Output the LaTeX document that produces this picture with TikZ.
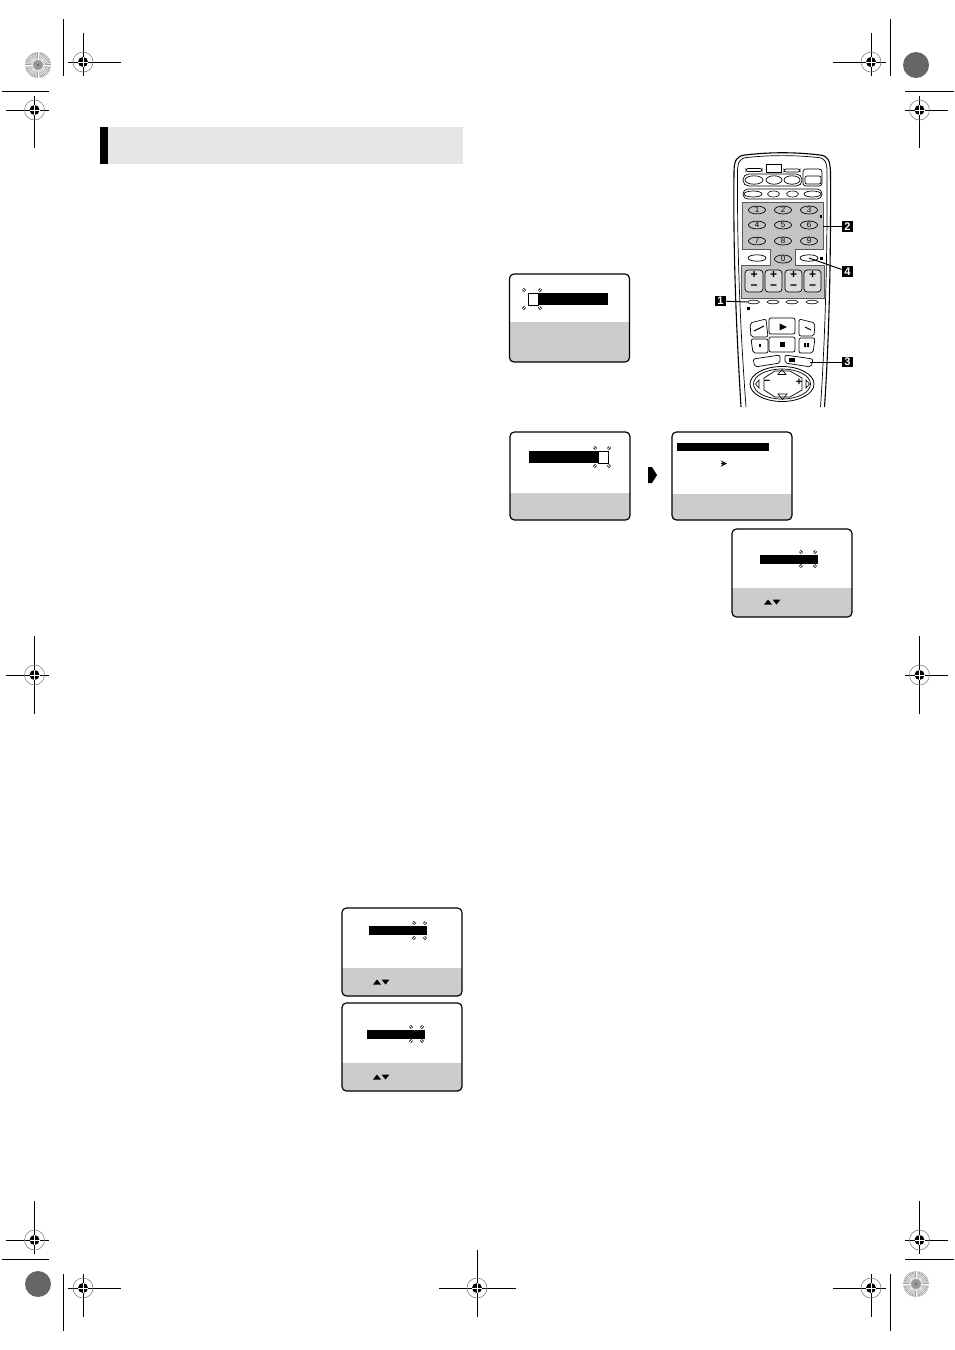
\documentclass[tikz,border=0pt]{standalone}
\usepackage{fontspec}
\setmainfont{Liberation Sans}
\usetikzlibrary{shapes.geometric}

\definecolor{bandgray}{HTML}{E6E6E6}
\definecolor{scrgray}{HTML}{CCCCCC}
\definecolor{padgray}{HTML}{C4C4C4}
\definecolor{dotgray}{HTML}{666666}

\tikzset{
 oval/.style={draw, ellipse, inner sep=0, line width=.35pt, fill=white, minimum width=#1*.5pt},
 oval/.default=17,
 numkey/.style={oval=17, fill=padgray, minimum height=2.8pt, text=black, font=\fontsize{4}{4}\selectfont},
 bigkey/.style={oval=18, minimum height=3.2pt},
 slimkey/.style={oval=12, minimum height=1.8pt, line width=.3pt},
 tag/.style={fill=black, text=white, inner sep=0, minimum width=5.5pt, minimum height=5.3pt, font=\fontsize{5.5}{5.5}\selectfont\bfseries},
 lead/.style={line width=.5pt},
 keyline/.style={line width=.35pt, rounded corners=1pt},
 scrbox/.style={line width=.6pt, rounded corners=2.2pt},
 spark/.style={line width=.4pt}
}

% crop target, at (x,y)
\newcommand\regmark[2]{
 \draw[gray, line width=.3pt] (#1,#2) circle (10);
 \fill[black] (#1,#2) circle (5);
 \draw[white, line width=.25pt] (#1-5,#2)--(#1+5,#2) (#1,#2-5)--(#1,#2+5);
}
\newcommand\spiral[2]{
 \fill[gray!80] (#1,#2) circle (13);
 \foreach \a in {0,7.5,...,352.5} \draw[white, line width=.22pt] ([shift={(\a:5)}]#1,#2) -- ([shift={(\a:13)}]#1,#2);
 \fill[black!75] (#1,#2) circle (.8);
}
% screen: left, top, top of grey part
\newcommand\screen[3]{
 \fill[white] (#1,#2) rectangle ++(120,88);
 \fill[scrgray] (#1,#3) -- ++(120,0) [rounded corners=2.2pt] -- (#1+120,#2+88) -- (#1,#2+88) [sharp corners] -- cycle;
 \draw[scrbox] (#1,#2) rectangle ++(120,88);
}
% four blinking marks: left, right, top, bottom
\newcommand\sparks[4]{
 \foreach \sx/\sy/\dx/\dy in {#1/#3/-1/-1, #2/#3/1/-1, #1/#4/-1/1, #2/#4/1/1} {
  \draw[spark] (\sx-\dx*1.2-\dy*.7,\sy-\dy*1.2+\dx*.7) --++(\dx*2.4,\dy*2.4);
  \draw[spark] (\sx-\dx*1+\dy*.7,\sy-\dy*1-\dx*.7) --++(\dx*2,\dy*2);
 }
}
\newcommand\updown[2]{
 \fill (#1-4,#2+2.5) -- (#1,#2-2.5) -- (#1+4,#2+2.5) -- cycle;
 \fill (#1+4.5,#2-2.5) -- (#1+12.5,#2-2.5) -- (#1+8.5,#2+2.5) -- cycle;
}

\begin{document}
\begin{tikzpicture}[x=.5pt, y=-.5pt]
\useasboundingbox (0,0) rectangle (954,1350);

% heading band
\fill[bandgray] (108,127) rectangle (463,164);
\fill[black] (100,127) rectangle (108,164);

% crop lines
\foreach \x/\ya/\yb in {63/19/76, 890/19/76, 63/1274/1331, 890/1274/1331}
 \draw[line width=.5pt] (\x,\ya)--(\x,\yb);
\foreach \xa/\xb/\y in {2/49/91, 905/954/91, 2/49/1259, 905/954/1259}
 \draw[line width=.5pt] (\xa,\y)--(\xb,\y);
\foreach \x/\y/\xa/\xb/\ya/\yb in {83/62/68/121/33/76, 871/62/833/886/33/76, 34.5/110/6/49/96/148, 919.5/110/905/948/96/148,
 34.5/675/6/49/636/714, 919.5/675/905/948/636/714, 34.5/1240/6/49/1201/1254, 919.5/1240/905/948/1201/1254,
 83/1288/68/121/1274/1317, 871/1288/833/886/1274/1317, 477/1288/439/516/1250/1317} {
 \draw[line width=.5pt] (\xa,\y)--(\xb,\y) (\x,\ya)--(\x,\yb);
 \regmark{\x}{\y}
}
\spiral{38}{65}
\spiral{916}{1284}
\fill[dotgray] (916,65) circle (13);
\fill[dotgray] (38,1284) circle (13);

% screens
\screen{509.5}{274}{322}
\fill (538,293) rectangle (608,305);
\draw[fill=white, line width=.5pt] (528,293) rectangle (538,305);
\sparks{524}{540}{290}{308}

\screen{510}{432}{493}
\fill (529,451) rectangle (598,463);
\draw[fill=white, line width=.5pt] (598,451) rectangle (608,463);
\sparks{595}{609}{448}{466}

\fill (648,467) -- (652,467) -- (657,475) -- (652,483) -- (648,483) -- cycle;

\screen{672}{432}{494}
\fill (677,443) rectangle (769,451);
\draw[->, >=stealth, line width=.4pt] (721,463.5) -- (727,463.5);

\screen{732}{529}{588}
\fill (760,555) rectangle (818,564);
\sparks{801}{815}{552}{566}
\updown{768}{602}

\screen{342}{908}{968}
\fill (369,926) rectangle (427,935);
\sparks{414}{425}{923}{938}
\updown{377}{982}

\screen{342}{1003}{1063}
\fill (367,1030) rectangle (425,1039);
\sparks{411}{422}{1027}{1041}
\updown{377}{1077}

% remote body
\draw[line width=.55pt, fill=white] (741,407) .. controls (737,340) and (733,260) .. (734,172)
 .. controls (734,160) and (737,156) .. (745,155) .. controls (770,152) and (795,152) .. (820,155)
 .. controls (828,156) and (830,160) .. (830.5,172) .. controls (831,260) and (829,340) .. (824.5,407);
\draw[line width=.35pt] (746,407) .. controls (741,340) and (737,260) .. (737.5,172)
 .. controls (737.5,162) and (740,158) .. (747,157.5) .. controls (770,155) and (795,155) .. (818,157.5)
 .. controls (825,158) and (827,162) .. (827,172) .. controls (827.5,260) and (825,340) .. (820.5,407);

% top buttons
\draw[keyline] (746,168.5) rectangle (762,171.5);
\draw[line width=.35pt] (766,164) rectangle (781,172);
\draw[keyline] (784,169) rectangle (800,172);
\draw[keyline, rounded corners=1.5pt] (803,169) rectangle (822,186);
\draw[keyline] (805,176) rectangle (821,184);
\draw[line width=.35pt, rounded corners=2.8pt] (743,174) rectangle (802,186);
\draw[line width=.35pt, rounded corners=2.4pt] (743,189) rectangle (822,199);
\node[oval=18, minimum height=4.2pt] (tv) at (754,180) {};
\node[oval=16, minimum height=4.2pt] (vcr) at (774,180) {};
\node[oval=16, minimum height=4.2pt] (dvd) at (792,180) {};
\node[oval=18, minimum height=3pt] (fna) at (753,194) {};
\node[slimkey, minimum height=3pt] (fnb) at (773.5,194) {};
\node[slimkey, minimum height=3pt] (fnc) at (792.5,194) {};
\node[oval=17, minimum height=3pt] (fnd) at (812.5,194) {};

% keypad and volume block
\fill[padgray] (742,202) -- (823,202) -- (823,249) -- (795,249) -- (795,265.5) -- (824,265.5) -- (824,298) -- (741,298) -- (741,265.5) -- (770,265.5) -- (770,249) -- (742,249) -- cycle;
\draw[line width=.45pt, black!65] (742,202) -- (823,202) -- (823,249) -- (795,249) -- (795,265.5) -- (824,265.5) -- (824,298) -- (741,298) -- (741,265.5) -- (770,265.5) -- (770,249) -- (742,249) -- cycle;
\foreach \n/\x/\y in {1/757/210, 2/783/210, 3/809/210, 4/757/225, 5/783/225, 6/809/225, 7/757/241, 8/783/241, 9/809/241, 0/783/259}
 \node[numkey] (key\n) at (\x,\y) {\n};
\node[bigkey] (okeyl) at (757,258) {};
\node[bigkey] (okeyr) at (809,258) {};
\fill (819.5,214.5) rectangle (822,218);
\fill (819.5,256.5) rectangle (822.5,260);

\foreach \x/\xb in {745/763, 765/782, 785/802, 804/821} {
 \draw[keyline, fill=padgray!60, rounded corners=1.6pt] (\x,270) rectangle (\xb,292);
 \node[font=\fontsize{6}{6}\selectfont\bfseries, inner sep=0] (plus\x) at ({(\x+\xb)/2},275) {+};
 \node[font=\fontsize{6}{6}\selectfont\bfseries, inner sep=0] (minus\x) at ({(\x+\xb)/2},287) {−};
}
\node[slimkey] (prog) at (753.5,302) {};
\node[slimkey] (progb) at (773,302) {};
\node[slimkey] (progc) at (792,302) {};
\node[slimkey] (progd) at (812,302) {};
\fill (747,306.5) rectangle (750,310);

% transport keys
\draw[keyline] (769,318) rectangle (795,334);
\draw[keyline] (769,337) rectangle (795,352);
\draw[keyline] (750,323) -- (766,319) -- (768,337) -- (751,337) -- cycle;
\draw[keyline] (751,339) -- (768,339) -- (768,353) -- (753,353) -- cycle;
\draw[keyline] (799,319) -- (815,323) -- (814,336) -- (799,336) -- cycle;
\draw[keyline] (799,338) -- (815,338) -- (813,353) -- (799,353) -- cycle;
\fill (779.5,323.5) -- (787,327) -- (779.5,330.5) -- cycle;
\fill (780,342) rectangle (785,347);
\fill (758.5,344) rectangle (761,347);
\fill (804,343) rectangle (806,347) (807,343) rectangle (809,347);
\draw[line width=.5pt] (754,331) -- (764,326) (805,327) -- (811,330);
\draw[keyline] (753,359) -- (780,355) -- (780,363) -- (755,367) -- cycle;
\draw[keyline] (785,355) -- (813,359) -- (811,367) -- (785,363) -- cycle;
\fill (789,358) rectangle (795,362);

% cursor ring
\node[draw, ellipse, inner sep=0, line width=.4pt, minimum width=32pt, minimum height=17.5pt] (ringo) at (782,384) {};
\node[draw, ellipse, inner sep=0, line width=.35pt, minimum width=28.5pt, minimum height=15pt] (ringi) at (782,384) {};
\draw[line width=.35pt] (764,378) -- (775,371) -- (790,371) -- (802,378) -- (802,390) -- (790,397) -- (775,397) -- (764,390) -- cycle;
\draw[line width=.3pt] (778,374.5) -- (782,369.5) -- (786,374.5) -- cycle;
\draw[line width=.3pt] (778,394) -- (787,394) -- (782.5,399.5) -- cycle;
\draw[line width=.3pt] (759,380) -- (755.5,384) -- (759,388) -- cycle;
\draw[line width=.3pt] (806,380) -- (809.5,384) -- (806,388) -- cycle;
\node[font=\fontsize{5.5}{5.5}\selectfont\bfseries, inner sep=0] (chdown) at (767,382) {−};
\node[font=\fontsize{5.5}{5.5}\selectfont\bfseries, inner sep=0] (chup) at (799,382) {+};

% callouts
\node[tag] (tagone) at (720.5,301) {1};
\node[tag] (tagtwo) at (847.5,226.5) {2};
\node[tag] (tagthree) at (847.5,362) {3};
\node[tag] (tagfour) at (847.5,271.5) {4};
\coordinate (padedge) at (823,226.5);
\coordinate (timer) at (810,362);
\draw[lead] (tagone) -- (prog.west);
\draw[lead] (tagtwo) -- (padedge);
\draw[lead] (tagthree) -- (timer);
\draw[lead] (tagfour) -- (okeyr.center);
\end{tikzpicture}
\end{document}
